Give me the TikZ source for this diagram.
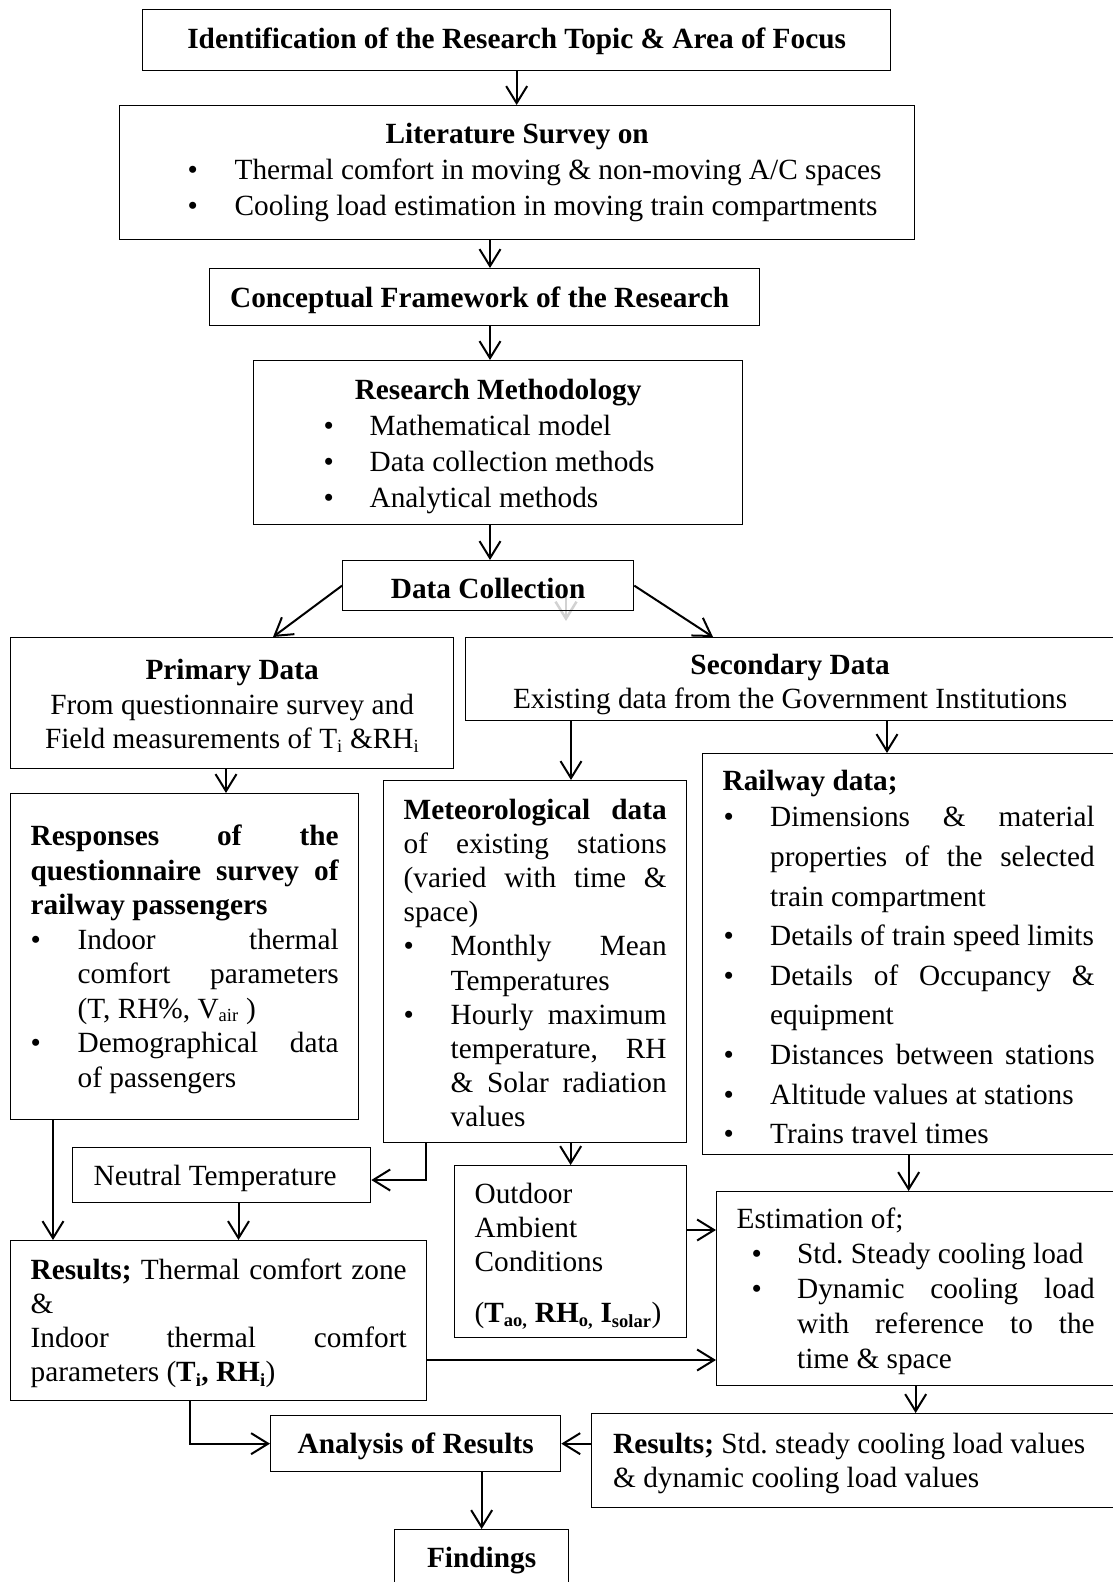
\documentclass[tikz,border=0pt]{standalone}
\usepackage{fontspec}
\setmainfont{Liberation Serif}
\usetikzlibrary{arrows.meta,calc}
\setlength{\parindent}{0pt}
\frenchspacing
\hyphenpenalty=10000
\exhyphenpenalty=10000
\newcommand{\fs}[1]{\fontsize{29.3}{#1}\selectfont}
\newcommand{\sub}[1]{\textsubscript{\fontsize{18.5}{18.5}\selectfont #1}}
\newcommand{\liftht}{26pt}
% bullet line: #1 bullet offset, #2 text offset, #3 text
\newcommand{\bul}[3]{\par\noindent\hangindent=#2\hangafter=1\hbox to #2{\hskip #1\textbullet\hss}#3\par}

\begin{document}
\begin{tikzpicture}[x=1pt,y=-1pt,
    lift/.code={\def\liftht{#1}},
    blk/.style={draw, line width=1.3pt, anchor=north west, inner ysep=0pt, inner xsep=20pt,
        execute at begin node={\spaceskip=0pt\xspaceskip=0pt\rule{0pt}{\liftht}}},
    link/.style={-{Straight Barb[length=17pt,width=21pt]}, line width=2pt}]
    \useasboundingbox (0,0) rectangle (1113,1582);
    \clip (0,0) rectangle (1113,1582);

    % --- guide coordinates for the connectors ---
    \coordinate (xa) at (490,0);
    \coordinate (xl) at (273,0);
    \coordinate (xr) at (713,0);
    \coordinate (xp) at (226,0);
    \coordinate (xm) at (571,0);
    \coordinate (xw) at (887,0);
    \coordinate (xq) at (53,0);
    \coordinate (xn) at (238.5,0);
    \coordinate (tn) at (426,1180);
    \coordinate (yo) at (0,1230);
    \coordinate (ye) at (0,1360);
    \coordinate (xs) at (190,0);

    % faint stray arrow behind the data collection box
    \coordinate (g1) at (566,590);
    \coordinate (g2) at (566,621);
    \draw[link, gray!35, line width=2.5pt] (g1) -- (g2);

    % --- top chain ---
    \node[blk, lift=22pt, minimum width=748pt, minimum height=61pt, font={\fs{35}\bfseries}] (topic) at (142,9)
        {Identification of the Research Topic \& Area of Focus};
    \node[blk, lift=0pt, minimum width=795pt, minimum height=134pt, text width=755pt, font={\fs{35.8}}] (survey) at (119,105)
        {{\centering\textbf{Literature Survey on}\par}
         \bul{48pt}{95pt}{Thermal comfort in moving \& non-moving A/C spaces}
         \bul{48pt}{95pt}{Cooling load estimation in moving train compartments}};
    \node[blk, minimum width=550pt, minimum height=57pt, font={\fs{35}\bfseries}] (frame) at (209,268)
        {Conceptual Framework of the Research\hspace*{10pt}};
    \node[blk, lift=28pt, minimum width=489pt, minimum height=164pt, text width=449pt, font={\fs{36}}] (method) at (253,360)
        {{\centering\textbf{Research Methodology}\par}
         \bul{50pt}{96pt}{Mathematical model}
         \bul{50pt}{96pt}{Data collection methods}
         \bul{50pt}{96pt}{Analytical methods}};
    \node[blk, minimum width=291pt, minimum height=50pt, font={\fs{35}\bfseries}] (collect) at (342,560)
        {Data Collection};

    % --- primary and secondary data ---
    \node[blk, minimum width=443pt, minimum height=131pt, text width=403pt, font={\fs{34.3}}] (primary) at (10,637)
        {\centering\textbf{Primary Data}\\From questionnaire survey and\\Field measurements of T\sub{i} \&RH\sub{i}\par};
    \node[blk, lift=31pt, minimum width=649pt, minimum height=83pt, text width=609pt, font={\fs{34.3}}] (secondary) at (465,637)
        {\centering\textbf{Secondary Data}\\Existing data from the Government Institutions\par};

    \node[blk, minimum width=348pt, minimum height=326pt, text width=308pt, align=justify, font={\fs{34.45}}] (responses) at (10,793)
        {\textbf{Responses of the\linebreak questionnaire survey of\linebreak railway passengers}\par
         \bul{0pt}{47pt}{Indoor thermal\linebreak comfort parameters\linebreak (T, RH\%, V\sub{air} )}
         \bul{0pt}{47pt}{Demographical data\linebreak of passengers}};
    \node[blk, lift=23pt, minimum width=303pt, minimum height=362pt, text width=263pt, align=justify, font={\fs{34.2}}] (meteo) at (383,780)
        {\textbf{Meteorological data}\linebreak of existing stations\linebreak (varied with time \&\linebreak space)\par
         \bul{0pt}{47pt}{Monthly Mean\linebreak Temperatures}
         \bul{0pt}{47pt}{Hourly maximum\linebreak temperature, RH\linebreak \& Solar radiation\linebreak values}};
    \node[blk, minimum width=412pt, minimum height=401pt, text width=372pt, align=justify, font={\fs{39.6}}] (railway) at (702,753)
        {\textbf{Railway data;}\par\vspace{-3pt}
         \bul{1pt}{47.5pt}{Dimensions \& material\linebreak properties of the selected\linebreak train compartment}
         \bul{1pt}{47.5pt}{Details of train speed limits}
         \bul{1pt}{47.5pt}{Details of Occupancy \&\linebreak equipment}
         \bul{1pt}{47.5pt}{Distances between stations\parfillskip=0pt\par\parfillskip=0pt plus 1fil}
         \bul{1pt}{47.5pt}{Altitude values at stations}
         \bul{1pt}{47.5pt}{Trains travel times}};

    % --- lower part ---
    \node[blk, minimum width=298pt, minimum height=55pt, inner xsep=21pt, text width=256pt, font={\fs{34}}] (neutral) at (72,1147)
        {Neutral Temperature};
    \node[blk, lift=30pt, minimum width=232pt, minimum height=172pt, text width=192pt, font={\fs{33.8}}] (outdoor) at (454,1165)
        {\raggedright Outdoor\\Ambient\\Conditions\\[17.7pt](\textbf{T\sub{ao,}~RH\sub{o,}~I\sub{solar}})\par};
    \node[blk, minimum width=416pt, minimum height=160pt, text width=376pt, align=justify, font={\fs{34.3}}] (resultsl) at (10,1240)
        {\textbf{Results;} Thermal comfort zone\linebreak \&\newline Indoor thermal comfort\linebreak parameters (\textbf{T\sub{i}, RH\sub{i}})};
    \node[blk, minimum width=398pt, minimum height=194pt, text width=358pt, align=justify, font={\fs{35}}] (estim) at (716,1191)
        {Estimation of;\par
         \bul{15pt}{60.5pt}{Std. Steady cooling load}
         \bul{15pt}{60.5pt}{Dynamic cooling load\linebreak with reference to the\linebreak time \& space}};
    \node[blk, minimum width=523pt, minimum height=94pt, inner xsep=21.5pt, text width=480pt, font={\fs{34.3}}] (resultsr) at (591,1413)
        {\raggedright\textbf{Results;} Std. steady cooling load values\\\& dynamic cooling load values\par};
    \node[blk, minimum width=290pt, minimum height=56pt, font={\fs{35}\bfseries}] (analysis) at (270,1415)
        {Analysis of Results};
    \node[blk, minimum width=174pt, minimum height=57pt, font={\fs{35}\bfseries}] (findings) at (394,1529)
        {Findings};

    % --- connectors ---
    \draw[link] (topic.south) -- (topic.south |- survey.north);
    \draw[link] (survey.south -| xa) -- (frame.north -| xa);
    \draw[link] (frame.south -| xa) -- (method.north -| xa);
    \draw[link] (method.south -| xa) -- (collect.north -| xa);
    \draw[link] (collect.west) -- (primary.north -| xl);
    \draw[link] (collect.east) -- (secondary.north -| xr);
    \draw[link] (primary.south -| xp) -- (responses.north -| xp);
    \draw[link] (secondary.south -| xm) -- (meteo.north -| xm);
    \draw[link] (secondary.south -| xw) -- (railway.north -| xw);
    \draw[link] (responses.south -| xq) -- (resultsl.north -| xq);
    \draw[link] (neutral.south -| xn) -- (resultsl.north -| xn);
    \draw[link] (meteo.south -| tn) |- (tn -| neutral.east);
    \draw[link] (meteo.south -| outdoor.north) -- (outdoor.north);
    \draw[link] (railway.south) -- (railway.south |- estim.north);
    \draw[link] (outdoor.east |- yo) -- (estim.west |- yo);
    \draw[link] (resultsl.east |- ye) -- (estim.west |- ye);
    \draw[link] (estim.south) -- (estim.south |- resultsr.north);
    \draw[link] (resultsl.south -| xs) |- (analysis.west);
    \draw[link] (analysis.east -| resultsr.west) -- (analysis.east);
    \draw[link] (analysis.south -| findings.north) -- (findings.north);
\end{tikzpicture}
\end{document}
